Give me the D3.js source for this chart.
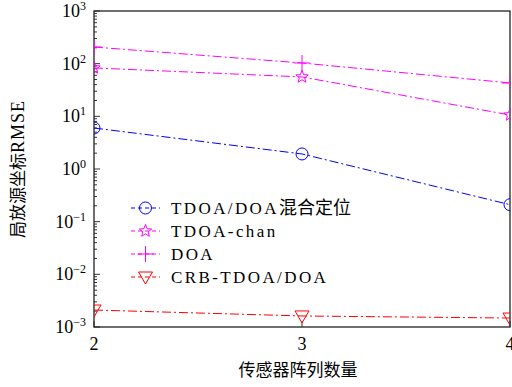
<!DOCTYPE html>
<html>
<head>
<meta charset="utf-8">
<script src="https://cdn.jsdelivr.net/npm/d3@7"></script>
<style>
body { margin: 0; background: #fff; }
</style>
</head>
<body>
<div id="chart"></div>
<script>
// sensors count
var sensorCounts = [2, 3, 4];
// RMSE values
var hybridRmse = [6.0, 1.93, 0.21];
var chanRmse = [83, 56, 10.6];
var doaRmse = [207, 103, 43];
var crbRmse = [0.0021, 0.00162, 0.00148];
var seriesNames = ["TDOA/DOA混合定位", "TDOA-chan", "DOA", "CRB-TDOA/DOA"];
var yTickExp = [-3, -2, -1, 0, 1, 2, 3];

var SERIF = "Liberation Serif";
var CJK = "Noto Sans CJK SC";

var W = 512, H = 387;
var margin = {top: 11, right: 2, bottom: 60, left: 94};
var width = W - margin.left - margin.right,
    height = H - margin.top - margin.bottom;

var svg = d3.select("#chart").append("svg")
    .attr("width", W).attr("height", H)
    .attr("font-family", SERIF);

var g = svg.append("g")
    .attr("transform", "translate(" + margin.left + "," + margin.top + ")");

var x = d3.scaleLinear().domain([2, 4]).range([0, width]);
var y = d3.scaleLog().domain([1e-3, 1e3]).range([height, 0]);

g.append("clipPath").attr("id", "clip")
  .append("rect").attr("width", width).attr("height", height);

// minor ticks on left
var minor = [];
for (var e = -3; e < 3; e++) {
    for (var m = 2; m <= 9; m++) minor.push(m * Math.pow(10, e));
}
g.selectAll(".minor").data(minor).enter().append("line")
    .attr("x1", 0).attr("x2", 3)
    .attr("y1", function(d) { return y(d); })
    .attr("y2", function(d) { return y(d); })
    .attr("stroke", "#000").attr("stroke-width", 0.8);

g.selectAll(".major").data(yTickExp).enter().append("line")
    .attr("x1", 0).attr("x2", 6)
    .attr("y1", function(d) { return y(Math.pow(10, d)); })
    .attr("y2", function(d) { return y(Math.pow(10, d)); })
    .attr("stroke", "#000").attr("stroke-width", 0.8);

// y tick labels 10^n
var yl = g.selectAll(".ylab").data(yTickExp).enter().append("text")
    .attr("x", -8)
    .attr("y", function(d) { return y(Math.pow(10, d)) + 6; })
    .attr("text-anchor", "end")
    .attr("font-size", 18);
yl.append("tspan").text("10");
yl.append("tspan").attr("dy", -7).attr("font-size", 12)
    .text(function(d) { return d < 0 ? "\u2212" + (-d) : d; });

// x ticks
g.selectAll(".xt").data(sensorCounts).enter().append("line")
    .attr("x1", function(d) { return x(d); })
    .attr("x2", function(d) { return x(d); })
    .attr("y1", height).attr("y2", height - 6)
    .attr("stroke", "#000").attr("stroke-width", 0.8);
g.selectAll(".xl").data(sensorCounts).enter().append("text")
    .attr("x", function(d) { return x(d); })
    .attr("y", height + 23)
    .attr("text-anchor", "middle")
    .attr("font-size", 18)
    .text(function(d) { return d; });

// frame
g.append("rect").attr("width", width).attr("height", height)
    .attr("fill", "none").attr("stroke", "#222").attr("stroke-width", 1.3);

var series = [
    {name: seriesNames[0], values: hybridRmse, color: "#0000ff", marker: "circle"},
    {name: seriesNames[1], values: chanRmse, color: "#ff00ff", marker: "star"},
    {name: seriesNames[2], values: doaRmse, color: "#ff00ff", marker: "plus"},
    {name: seriesNames[3], values: crbRmse, color: "#ff0000", marker: "tri"}
];

var dash = "9,3,2,3";
var line = d3.line()
    .x(function(d, i) { return x(sensorCounts[i]); })
    .y(function(d) { return y(d); });

function starPath(ro, ri) {
    var p = [];
    for (var k = 0; k < 10; k++) {
        var r = k % 2 ? ri : ro, a = -Math.PI / 2 + k * Math.PI / 5;
        p.push([r * Math.cos(a), r * Math.sin(a)]);
    }
    return "M" + p.join("L") + "Z";
}

function drawMarker(sel, type, color) {
    if (type === "circle") {
        sel.append("circle").attr("r", 6)
            .attr("fill", "none").attr("stroke", color).attr("stroke-width", 1);
    } else if (type === "star") {
        sel.append("path").attr("d", starPath(6.5, 2.8))
            .attr("fill", "none").attr("stroke", color).attr("stroke-width", 1);
    } else if (type === "plus") {
        sel.append("path").attr("d", "M-8,0H8M0,-8V8")
            .attr("fill", "none").attr("stroke", color).attr("stroke-width", 1);
    } else {
        sel.append("path").attr("d", "M-7,-5L7,-5L0,7Z")
            .attr("fill", "none").attr("stroke", color).attr("stroke-width", 1);
    }
}

var plot = g.append("g").attr("clip-path", "url(#clip)");
series.forEach(function(s) {
    plot.append("path").datum(s.values)
        .attr("d", line)
        .attr("fill", "none").attr("stroke", s.color)
        .attr("stroke-width", 1).attr("stroke-dasharray", dash);
    s.values.forEach(function(v, i) {
        var mk = plot.append("g")
            .attr("transform", "translate(" + x(sensorCounts[i]) + "," + y(v) + ")");
        drawMarker(mk, s.marker, s.color);
    });
});

// legend
var leg = svg.append("g").attr("transform", "translate(131,208)");
series.forEach(function(s, i) {
    var row = leg.append("g").attr("transform", "translate(0," + (i * 23) + ")");
    row.append("line").attr("x1", 0).attr("x2", 29)
        .attr("stroke", s.color).attr("stroke-width", 1).attr("stroke-dasharray", "4,3");
    var mk = row.append("g").attr("transform", "translate(14.5,0)");
    drawMarker(mk, s.marker, s.color);
    var t = row.append("text").attr("x", 40).attr("y", 6).attr("font-size", 17);
    var m = s.name.match(/^([\x00-\x7f]*)(.*)$/);
    t.append("tspan").attr("letter-spacing", 2.4).text(m[1]);
    if (m[2]) t.append("tspan").attr("font-family", CJK).attr("font-size", 18).text(m[2]);
});

// axis labels
svg.append("text").attr("font-family", CJK)
    .attr("x", 298).attr("y", 376)
    .attr("text-anchor", "middle").attr("font-size", 17)
    .text("传感器阵列数量");

var ylab = svg.append("text")
    .attr("transform", "translate(24," + (margin.top + height / 2) + ") rotate(-90)")
    .attr("text-anchor", "middle").attr("font-size", 18);
ylab.append("tspan").attr("font-family", CJK).attr("font-size", 17).text("局放源坐标");
ylab.append("tspan").attr("letter-spacing", 1).text("RMSE");
</script>
</body>
</html>
